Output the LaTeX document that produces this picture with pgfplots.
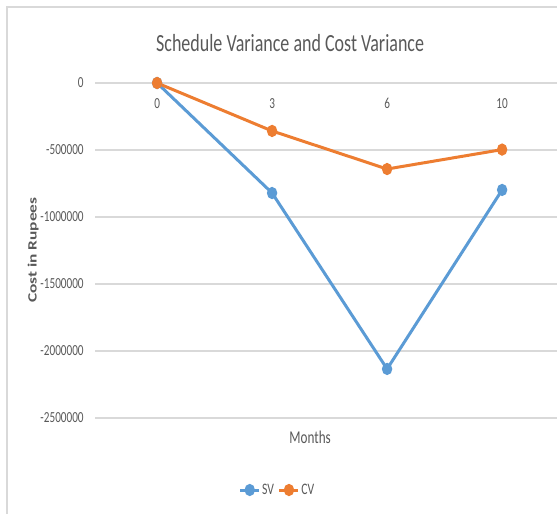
\documentclass[border=0pt]{standalone}
\usepackage{fontspec}
\setmainfont{Carlito}[FakeStretch=0.73]
\newfontfamily\ylabfont{Carlito}
\usepackage{pgfplots}
\pgfplotsset{compat=1.18}
\definecolor{svblue}{HTML}{5B9BD5}
\definecolor{cvorange}{HTML}{ED7D31}
\definecolor{txtgray}{HTML}{595959}
\definecolor{gridgray}{HTML}{D9D9D9}

\begin{document}
\begin{tikzpicture}
\useasboundingbox (0,0) rectangle (417.75pt,385.5pt);
% chart frame (right and bottom edges are cut off)
\draw[gridgray, line width=1pt] (5.25pt,0) -- (5.25pt,380.25pt) -- (417.75pt,380.25pt);
\begin{axis}[
  at={(71.25pt,72pt)}, anchor=south west,
  scale only axis, width=348.45pt, height=251.25pt,
  xmin=-0.54, xmax=3.5, ymin=-2500000, ymax=0,
  axis x line=middle, axis y line=left,
  axis line style={draw=none},
  every inner x axis line/.append style={-},
  every outer y axis line/.append style={-},
  xtick={0,1,2,3}, xticklabels={0,3,6,10},
  ytick={-2500000,-2000000,-1500000,-1000000,-500000,0},
  scaled y ticks=false,
  yticklabel style={/pgf/number format/fixed, /pgf/number format/1000 sep={}},
  /pgf/number format/assume math mode=true,
  ymajorgrids, grid style={gridgray, line width=0.9pt},
  major tick length=0pt,
  tick label style={font=\fontsize{11.5}{13}\selectfont, text=txtgray},
  x tick label style={yshift=-8pt},
  y tick label style={xshift=-5pt},
  clip=false,
  legend image code/.code={\draw[mark repeat=2, mark phase=2]
    plot coordinates {(0cm,0cm) (0.25cm,0cm) (0.5cm,0cm)};},
  legend style={at={(axis description cs:0.392,-0.215)}, anchor=center,
    draw=none, fill=none, legend columns=2,
    font=\fontsize{12}{14}\selectfont, text=txtgray,
    nodes={inner sep=1pt},
    /tikz/every even column/.append style={column sep=2pt}},
]
\addplot[svblue, line width=2.25pt, mark=*, mark size=3.4pt, mark options={xscale=0.8}]
  coordinates {(0,0) (1,-821000) (2,-2134000) (3,-798000)};
\addlegendentry{SV}
\addplot[cvorange, line width=2.25pt, mark=*, mark size=3.4pt, mark options={xscale=0.8}]
  coordinates {(0,0) (1,-358000) (2,-642000) (3,-497000)};
\addlegendentry{CV}
\node[font=\fontsize{18.5}{21}\selectfont, text=txtgray] at (axis description cs:0.42,1.119) {Schedule Variance and Cost Variance};
\node[font=\fontsize{13.5}{16}\selectfont, text=txtgray] at (axis description cs:0.463,-0.057) {Months};
\node[rotate=90, text=txtgray] at (axis description cs:-0.133,0.501)
  {\scalebox{1}[0.73]{\ylabfont\bfseries\fontsize{13}{15}\selectfont Cost in Rupees}};
\end{axis}
\end{tikzpicture}
\end{document}
